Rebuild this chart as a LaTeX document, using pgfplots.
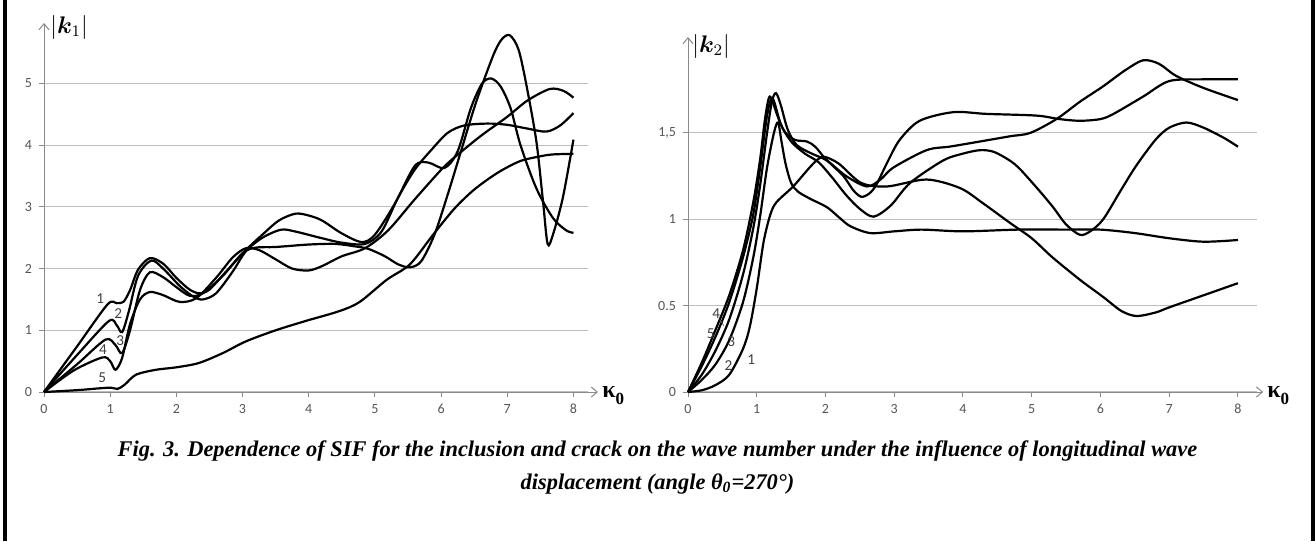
\documentclass[border=0pt]{standalone}
\usepackage{fontspec}
\setmainfont{Liberation Serif}
\newfontfamily\carlito{Carlito}
\usepackage{bm}
\usepackage{pgfplots}
\pgfplotsset{compat=1.18}
\usetikzlibrary{arrows.meta}

\definecolor{gridgray}{HTML}{BDBDBD}
\definecolor{axisgray}{HTML}{8A8A8A}
\definecolor{ticktext}{HTML}{555555}

\tikzset{lbl/.style={font=\carlito\fontsize{7.6}{8}\selectfont, text=black!75, inner sep=0pt}}
\newcommand\kappanull{{\bfseries κ\raisebox{-3.6pt}{\fontsize{8.5}{9}\selectfont 0}}}

\pgfplotsset{
  sif/.style={
    scale only axis,
    enlargelimits=false,
    axis lines=left,
    axis line style={draw=axisgray, line width=0.5pt, -{Straight Barb[length=3pt,width=5pt]}},
    tick align=outside,
    major tick length=2.5pt,
    tick style={draw=axisgray, line width=0.5pt},
    ymajorgrids,
    grid style={gridgray, line width=0.6pt},
    ticklabel style={font=\carlito\fontsize{7}{8}\selectfont, text=ticktext},
    /pgf/number format/assume math mode=true,
    clip=false,
    cycle list={{black, solid, mark=none}},
    every axis plot post/.append style={line width=1.1pt, smooth},
  },
}

\begin{document}
\begin{tikzpicture}
\path[use as bounding box] (0,0) rectangle (657.5pt,-270.5pt);
\fill (1.5pt,0) rectangle (3.5pt,-270.5pt);
\fill (655.5pt,0) rectangle (657.5pt,-270.5pt);

% left: |k1|
\begin{axis}[sif, at={(22pt,-196pt)}, anchor=south west,
  width=272pt, height=184.5pt,
  xmin=0, xmax=8.22, ymin=0, ymax=5.98,
  xtick={0,1,...,8}, ytick={0,1,...,5},
  x axis line style={shorten >=-5pt}]
\addplot coordinates {(0,0) (0.5,0.74) (0.96,1.42) (1.1,1.44) (1.2,1.46) (1.3,1.65) (1.42,1.98) (1.6,2.17) (1.8,2.08) (2.0,1.85) (2.2,1.66) (2.35,1.6) (2.5,1.66) (2.75,1.95) (3.05,2.3) (3.3,2.55) (3.55,2.78) (3.8,2.89) (4.0,2.86) (4.2,2.78) (4.5,2.57) (4.8,2.43) (5.0,2.55) (5.3,3.05) (5.6,3.66) (5.8,3.72) (6.05,3.63) (6.25,3.9) (6.45,4.6) (6.62,5.0) (6.76,5.08) (6.9,4.95) (7.05,4.6) (7.2,4.0) (7.44,3.3) (7.69,2.82) (7.89,2.62) (8.0,2.58)};
\addplot coordinates {(0,0) (0.5,0.6) (0.98,1.15) (1.1,1.08) (1.18,0.97) (1.28,1.3) (1.42,1.88) (1.62,2.13) (1.8,2.0) (2.05,1.72) (2.25,1.55) (2.4,1.5) (2.6,1.6) (2.85,1.95) (3.05,2.28) (3.3,2.5) (3.58,2.63) (3.8,2.6) (4.17,2.5) (4.5,2.42) (4.85,2.4) (5.1,2.6) (5.35,3.15) (5.6,3.6) (5.85,3.92) (6.1,4.2) (6.35,4.32) (6.7,4.35) (7.0,4.33) (7.3,4.27) (7.59,4.22) (7.8,4.32) (8.0,4.52)};
\addplot coordinates {(0,0) (0.5,0.45) (0.93,0.85) (1.08,0.76) (1.18,0.63) (1.3,1.0) (1.45,1.65) (1.6,1.94) (1.8,1.86) (2.0,1.7) (2.2,1.56) (2.4,1.6) (2.7,1.88) (3.0,2.25) (3.2,2.34) (3.5,2.35) (4.0,2.39) (4.4,2.4) (4.7,2.36) (4.9,2.32) (5.15,2.2) (5.35,2.07) (5.53,2.02) (5.7,2.12) (5.9,2.55) (6.1,3.2) (6.3,3.9) (6.53,4.7) (6.79,5.46) (6.92,5.72) (7.04,5.78) (7.17,5.55) (7.29,4.97) (7.44,4.06) (7.54,3.09) (7.61,2.4) (7.69,2.55) (7.84,3.15) (8.0,4.09)};
\addplot coordinates {(0,0) (0.45,0.35) (0.88,0.56) (1.0,0.5) (1.08,0.36) (1.18,0.55) (1.3,1.1) (1.45,1.5) (1.6,1.62) (1.8,1.57) (2.05,1.46) (2.3,1.52) (2.6,1.85) (2.85,2.18) (3.05,2.33) (3.25,2.3) (3.5,2.15) (3.75,2.0) (4.0,1.97) (4.2,2.04) (4.5,2.2) (4.85,2.33) (5.2,2.62) (5.6,3.12) (6.0,3.6) (6.2,3.8) (6.6,4.15) (7.0,4.46) (7.3,4.72) (7.64,4.91) (7.85,4.88) (8.0,4.77)};
\addplot coordinates {(0,0) (0.5,0.03) (0.98,0.07) (1.11,0.05) (1.22,0.12) (1.39,0.28) (1.69,0.36) (2.0,0.4) (2.34,0.47) (2.7,0.63) (3.05,0.82) (3.5,1.0) (3.95,1.15) (4.46,1.31) (4.77,1.46) (5.18,1.82) (5.53,2.07) (5.88,2.55) (6.2,2.97) (6.5,3.28) (6.85,3.55) (7.19,3.74) (7.5,3.82) (7.69,3.85) (8.0,3.86)};
\node[lbl] at (axis cs:0.85,1.51) {1};
\node[lbl] at (axis cs:1.12,1.27) {2};
\node[lbl] at (axis cs:1.15,0.84) {3};
\node[lbl] at (axis cs:0.89,0.68) {4};
\node[lbl] at (axis cs:0.88,0.23) {5};
\end{axis}

% right: |k2|
\begin{axis}[sif, at={(344pt,-196pt)}, anchor=south west,
  width=284.6pt, height=177.5pt,
  xmin=0, xmax=8.28, ymin=0, ymax=2.055,
  xtick={0,1,...,8}, ytick={0,0.5,1,1.5},
  yticklabels={0,0.5,1,{1,5}},
  x axis line style={shorten >=-3pt}]
\addplot coordinates {(0,0) (0.2,0.01) (0.4,0.04) (0.6,0.1) (0.8,0.25) (0.9,0.38) (1.0,0.6) (1.1,0.87) (1.2,1.03) (1.29,1.1) (1.53,1.19) (1.77,1.3) (1.9,1.35) (2.0,1.36) (2.2,1.32) (2.52,1.21) (2.9,1.19) (3.47,1.23) (3.96,1.18) (4.3,1.09) (4.68,0.98) (5.0,0.89) (5.3,0.78) (5.7,0.65) (6.04,0.55) (6.3,0.47) (6.52,0.44) (6.8,0.46) (7.0,0.49) (7.5,0.56) (8.0,0.63)};
\addplot coordinates {(0,0) (0.2,0.07) (0.4,0.16) (0.6,0.3) (0.8,0.52) (0.95,0.78) (1.05,1.02) (1.15,1.3) (1.25,1.5) (1.31,1.56) (1.36,1.45) (1.42,1.32) (1.5,1.21) (1.6,1.16) (1.77,1.12) (2.02,1.07) (2.2,1.01) (2.36,0.96) (2.65,0.92) (3.0,0.93) (3.4,0.94) (4.0,0.93) (4.8,0.94) (5.5,0.94) (6.0,0.94) (6.5,0.92) (7.0,0.89) (7.5,0.87) (8.0,0.88)};
\addplot coordinates {(0,0) (0.2,0.1) (0.4,0.24) (0.6,0.42) (0.8,0.68) (0.95,0.95) (1.05,1.2) (1.15,1.5) (1.22,1.68) (1.28,1.73) (1.35,1.66) (1.45,1.52) (1.58,1.43) (1.8,1.38) (2.02,1.34) (2.3,1.25) (2.6,1.19) (2.8,1.23) (2.99,1.3) (3.47,1.4) (3.8,1.42) (4.1,1.44) (4.68,1.48) (4.98,1.5) (5.36,1.58) (5.7,1.68) (6.04,1.77) (6.35,1.86) (6.62,1.92) (6.85,1.9) (7.1,1.83) (7.5,1.76) (8.0,1.69)};
\addplot coordinates {(0,0) (0.2,0.17) (0.4,0.36) (0.6,0.56) (0.8,0.82) (0.95,1.1) (1.05,1.35) (1.12,1.58) (1.19,1.71) (1.3,1.6) (1.4,1.51) (1.55,1.46) (1.73,1.45) (1.85,1.42) (2.0,1.35) (2.26,1.25) (2.4,1.17) (2.52,1.13) (2.64,1.15) (2.74,1.2) (2.9,1.33) (3.08,1.46) (3.37,1.57) (3.86,1.62) (4.34,1.61) (5.07,1.6) (5.4,1.58) (5.7,1.57) (6.0,1.58) (6.19,1.61) (6.62,1.71) (7.0,1.8) (7.5,1.81) (8.0,1.81)};
\addplot coordinates {(0,0) (0.2,0.15) (0.4,0.32) (0.6,0.52) (0.8,0.78) (0.95,1.03) (1.05,1.3) (1.15,1.6) (1.23,1.7) (1.35,1.55) (1.5,1.45) (1.7,1.38) (1.9,1.33) (2.1,1.24) (2.3,1.14) (2.5,1.06) (2.7,1.015) (2.95,1.08) (3.23,1.21) (3.71,1.34) (4.0,1.38) (4.25,1.4) (4.45,1.39) (4.68,1.34) (4.83,1.29) (5.1,1.17) (5.31,1.07) (5.5,0.97) (5.7,0.91) (5.85,0.93) (6.04,1.0) (6.3,1.17) (6.52,1.31) (6.8,1.46) (7.0,1.53) (7.25,1.56) (7.5,1.53) (7.8,1.47) (8.0,1.42)};
\node[lbl] at (axis cs:0.41,0.455) {4};
\draw[black!70, line width=0.4pt] (axis cs:0.46,0.42) -- (axis cs:0.52,0.385);
\node[lbl] at (axis cs:0.33,0.34) {5};
\node[lbl] at (axis cs:0.63,0.29) {3};
\node[lbl] at (axis cs:0.59,0.155) {2};
\node[lbl] at (axis cs:0.92,0.19) {1};
\end{axis}

% axis titles
\node[anchor=west, inner sep=0pt, font=\fontsize{11.5}{13}\selectfont] at (25pt,-13.5pt) {$|\bm{k}_{1}|$};
\node[anchor=west, inner sep=0pt, font=\fontsize{11.5}{13}\selectfont] at (346pt,-23pt) {$|\bm{k}_{2}|$};
\node[anchor=base west, inner sep=0pt, font=\fontsize{12}{14}\selectfont] at (301pt,-198.5pt) {\kappanull};
\node[anchor=base west, inner sep=0pt, font=\fontsize{12}{14}\selectfont] at (633.5pt,-198.5pt) {\kappanull};

% caption
\node[anchor=base, inner sep=0pt, font=\bfseries\itshape\fontsize{11.2}{13}\selectfont] at (328.75pt,-228pt)
  {Fig. 3. Dependence of SIF for the inclusion and crack on the wave number under the influence of longitudinal wave};
\node[anchor=base, inner sep=0pt, font=\bfseries\itshape\fontsize{11.2}{13}\selectfont] at (328.75pt,-244.5pt)
  {displacement (angle θ\textsubscript{0}=270°)};
\end{tikzpicture}
\end{document}
